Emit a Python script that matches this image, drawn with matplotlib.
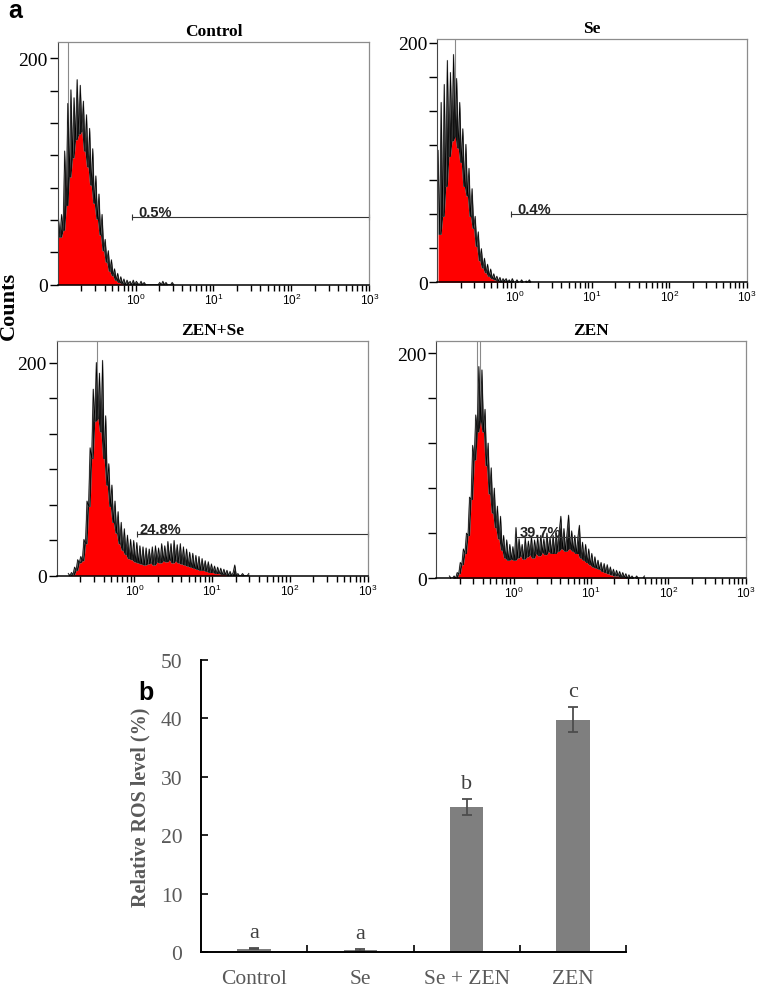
import numpy as np
import matplotlib
matplotlib.use("Agg")
import matplotlib.pyplot as plt
from matplotlib.ticker import LogLocator, NullFormatter

# ── panel a : flow cytometry histograms (counts per 0.02-decade channel) ─────
BIN_STEP = 0.02

CTRL_START = -1.00
CTRL_COUNTS = [
    58, 42, 62, 48, 118, 70, 160, 95, 172, 112,
    165, 128, 181, 133, 176, 136, 162, 118, 150, 104,
    138, 88, 120, 72, 96, 58, 80, 44, 62, 30,
    40, 20, 30, 12, 22, 8, 14, 4, 10, 2,
    7, 1, 5, 0, 4, 1, 3, 0, 4, 0,
    3, 1, 0, 3, 0, 2, 0, 0, 0, 0,
    0, 0, 0, 0, 0, 2, 0, 3, 0, 2,
    0, 0, 0, 2, 0,
]

SE_START = -1.00
SE_COUNTS = [
    110, 40, 150, 55, 165, 80, 185, 105, 175, 118,
    190, 122, 170, 112, 150, 100, 128, 80, 115, 72,
    95, 55, 78, 45, 55, 30, 42, 18, 28, 12,
    20, 8, 15, 5, 11, 3, 7, 2, 5, 1,
    4, 0, 3, 1, 3, 0, 2, 0, 3, 0,
    0, 2, 0, 0, 2, 0, 0, 1, 0, 2,
    0,
]

ZENSE_START = -0.86
ZENSE_COUNTS = [
    2, 0, 3, 1, 8, 5, 15, 12, 18, 14,
    34, 30, 70, 65, 120, 110, 175, 145, 200, 148,
    190, 135, 202, 110, 150, 85, 105, 65, 85, 50,
    70, 40, 60, 30, 50, 24, 44, 20, 38, 16,
    34, 15, 33, 13, 31, 12, 28, 11, 27, 10,
    26, 11, 25, 12, 27, 10, 28, 13, 26, 12,
    30, 14, 28, 13, 32, 15, 30, 12, 33, 14,
    29, 12, 30, 11, 27, 10, 25, 9, 22, 8,
    21, 7, 19, 6, 18, 5, 16, 5, 14, 4,
    13, 3, 11, 3, 9, 2, 8, 2, 7, 1,
    6, 1, 5, 0, 4, 0, 3, 10, 0, 2,
    0, 0, 2, 0, 0, 0, 2,
]

ZEN_START = -0.84
ZEN_COUNTS = [
    2, 0, 0, 2, 0, 5, 4, 14, 12, 26,
    22, 40, 38, 72, 70, 118, 105, 145, 130, 188,
    140, 185, 130, 150, 100, 120, 75, 98, 58, 80,
    45, 64, 35, 55, 25, 38, 18, 34, 16, 30,
    17, 28, 16, 45, 18, 35, 20, 30, 17, 36,
    19, 33, 21, 37, 18, 34, 22, 36, 20, 38,
    23, 35, 21, 40, 24, 36, 22, 38, 22, 40,
    24, 42, 55, 26, 44, 24, 40, 56, 26, 42,
    24, 38, 22, 36, 47, 18, 32, 16, 30, 14,
    26, 12, 22, 10, 19, 9, 16, 8, 14, 6,
    13, 5, 12, 4, 10, 3, 8, 2, 7, 2,
    6, 1, 5, 1, 4, 0, 3, 0, 2, 0,
    0, 2, 0, 0, 0, 0, 2,
]

HIST_TITLES = ["Control", "Se", "ZEN+Se", "ZEN"]
HIST_STARTS = [CTRL_START, SE_START, ZENSE_START, ZEN_START]
HIST_COUNTS = [CTRL_COUNTS, SE_COUNTS, ZENSE_COUNTS, ZEN_COUNTS]
HIST_YMAX = [214, 203, 220, 211]
HIST_YSTEPS = [7, 7, 6, 5]                 # tick intervals between 0 and 200
HIST_SPIKES = [[-0.864], [-0.775], [-0.486], [-0.474, -0.431]]  # off-scale channels (log10)
GATE_LEVEL = [60, 57, 39, 37]
GATE_START = [-0.05, -0.05, 0.03, 0.02]   # log10
GATE_TEXT = ["0.5%", "0.4%", "24.8%", "39.7%"]
GATE_TEXT_X = [0.03, 0.04, 0.07, 0.08]    # log10
DECADES = [1, 10, 100, 1000]
DECADE_LABELS = [r"$10^{0}$", r"$10^{1}$", r"$10^{2}$", r"$10^{3}$"]

# ── panel b : relative ROS level ─────────────────────────────────────────────
ROS_GROUPS = ["Control", "Se", "Se + ZEN", "ZEN"]
ROS_MEAN = [0.6, 0.4, 24.9, 39.8]
ROS_ERR = [0.1, 0.15, 1.35, 2.2]
ROS_LETTERS = ["a", "a", "b", "c"]

# ── layout (figure fractions, 758 x 987 px) ──────────────────────────────────
HIST_RECTS = [
    (0.0761, 0.7105, 0.4111, 0.2456),
    (0.5769, 0.7130, 0.4082, 0.2465),
    (0.0748, 0.4157, 0.4103, 0.2375),
    (0.5756, 0.4131, 0.4082, 0.2407),
]
BAR_RECT = (0.2652, 0.0344, 0.5607, 0.2958)

plt.rcParams["font.family"] = "Liberation Serif"
plt.rcParams["mathtext.default"] = "regular"
SANS = "Liberation Sans"


def draw_histogram(ax, k):
    counts = np.asarray(HIST_COUNTS[k], dtype=float)
    centres = 10.0 ** (HIST_STARTS[k] + BIN_STEP * (np.arange(counts.size) + 0.5))

    # off-scale channels: thin grey line up to the frame, behind the histogram
    for s in HIST_SPIKES[k]:
        ax.axvline(10.0 ** s, color="#8a8a8a", lw=0.8, zorder=0.5)

    # red body up to the local minimum, black "hair" for the channel noise above it
    padded = np.pad(counts, 1, mode="edge")
    body = np.minimum(np.minimum(padded[:-2], padded[1:-1]), padded[2:])
    ax.fill_between(centres, 0, body, color="#ff0000", lw=0, zorder=1)
    ax.fill_between(centres, body, counts, color="#101010", lw=0, zorder=1)
    ax.plot(centres, counts, color="#6a6a6a", lw=1.0, alpha=0.6, zorder=1.1)
    ax.plot(centres, counts, color="#000000", lw=0.5, zorder=1.2)

    ax.set_xscale("log")
    ax.set_xlim(0.1, 1000)
    ax.set_ylim(0, HIST_YMAX[k])

    # gate marker
    gx = [10.0 ** GATE_START[k], 1000]
    gy = [GATE_LEVEL[k], GATE_LEVEL[k]]
    ax.plot(gx, gy, color="#333333", lw=0.8, clip_on=False)
    ax.plot(gx, gy, ls="none", marker="|", ms=5, mew=0.8, color="#333333",
            clip_on=False)
    ax.text(10.0 ** GATE_TEXT_X[k], GATE_LEVEL[k] + 0.8, GATE_TEXT[k],
            family=SANS, fontsize=10.5, fontweight="bold", color="#222222",
            ha="left", va="baseline")

    # axes
    ax.set_xticks(DECADES, DECADE_LABELS)
    ax.xaxis.set_minor_locator(LogLocator(base=10, subs=np.arange(2, 10), numticks=20))
    ax.xaxis.set_minor_formatter(NullFormatter())
    ax.tick_params(axis="x", which="both", direction="out", length=4, width=1.0,
                   pad=1, labelsize=8.5)
    for lbl in ax.get_xticklabels():
        lbl.set_family(SANS)

    n = HIST_YSTEPS[k]
    ax.set_yticks(np.linspace(0, 200, n + 1), ["0"] + [""] * (n - 1) + ["200"])
    ax.tick_params(axis="y", direction="out", length=6, width=1.0, pad=1,
                   labelsize=14)

    for side in ("top", "right"):
        ax.spines[side].set_color("#8c8c8c")
        ax.spines[side].set_linewidth(0.9)
    ax.spines["left"].set_color("#444444")
    ax.spines["bottom"].set_color("black")
    ax.spines["bottom"].set_linewidth(1.1)

    ax.set_title(HIST_TITLES[k], fontsize=12.5, fontweight="bold", pad=5)


fig = plt.figure(figsize=(7.58, 9.87), dpi=100)

for k, rect in enumerate(HIST_RECTS):
    draw_histogram(fig.add_axes(rect), k)

fig.text(9 / 758, 1 - 306 / 987, "Counts", rotation=90, ha="center", va="center",
         fontsize=16, fontweight="bold")
fig.text(8 / 758, 1 - 18.5 / 987, "a", family=SANS, fontweight="bold",
         fontsize=18, va="baseline")
fig.text(138 / 758, 1 - 700 / 987, "b", family=SANS, fontweight="bold",
         fontsize=18, va="baseline")

# ── bar chart ────────────────────────────────────────────────────────────────
axb = fig.add_axes(BAR_RECT)
xpos = np.arange(len(ROS_GROUPS))
axb.bar(xpos, ROS_MEAN, width=0.315, color="#7f7f7f", yerr=ROS_ERR,
        error_kw=dict(ecolor="#4d4d4d", elinewidth=1.3, capsize=3.5, capthick=1.3))
for i, (m, e, letter) in enumerate(zip(ROS_MEAN, ROS_ERR, ROS_LETTERS)):
    axb.text(i, m + e + 1.0, letter, ha="center", va="bottom", fontsize=16,
             color="#404040")

axb.set_xlim(-0.5, len(ROS_GROUPS) - 0.5)
axb.set_ylim(0, 50)
axb.set_yticks(np.arange(0, 51, 10))
axb.set_xticks(xpos + 0.5)
axb.set_xticklabels([])
axb.set_xticks(xpos, ROS_GROUPS, minor=True)
axb.tick_params(axis="x", which="major", direction="in", length=5, width=1.2)
axb.tick_params(axis="x", which="minor", length=0, pad=12, labelsize=15.5,
                labelcolor="#595959")
axb.tick_params(axis="y", direction="in", length=5, width=1.2, pad=13.5,
                labelsize=15.5, labelcolor="#595959")
for side in ("top", "right"):
    axb.spines[side].set_visible(False)
for side in ("left", "bottom"):
    axb.spines[side].set_linewidth(1.4)
axb.set_ylabel("Relative ROS level (%)", fontsize=14.5, fontweight="bold",
               color="#595959", labelpad=7)

fig.savefig("out.png", dpi=100)
